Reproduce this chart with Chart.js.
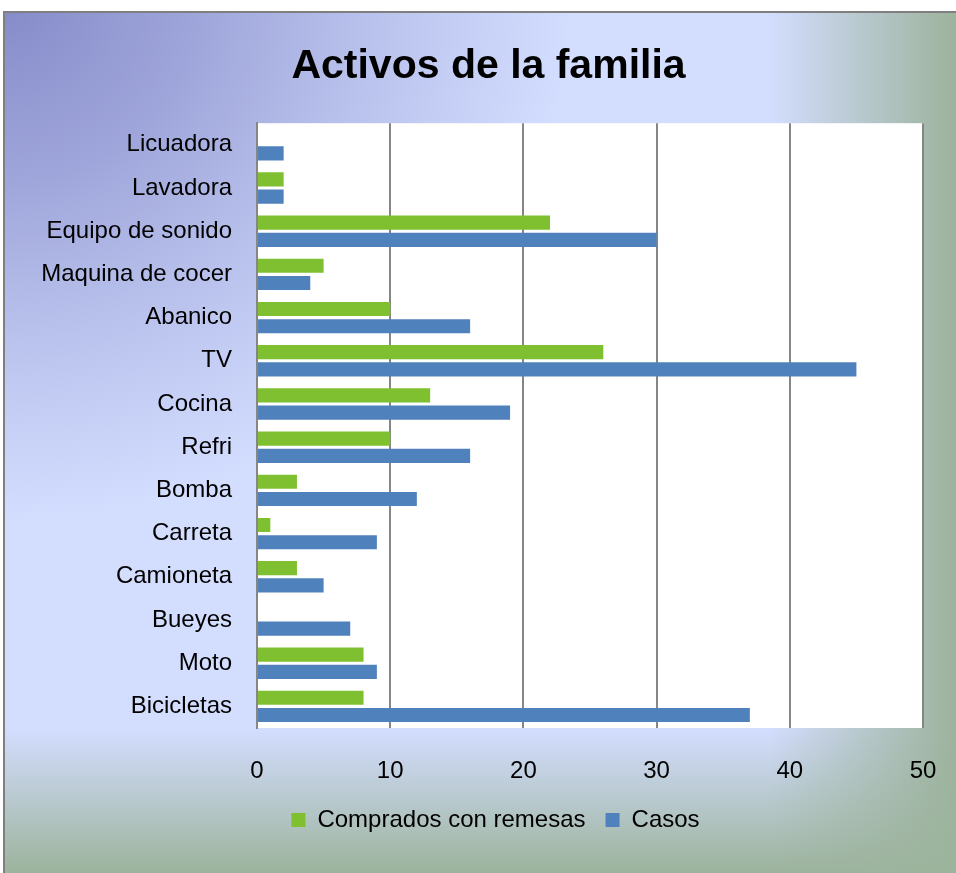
<!DOCTYPE html>
<html>
<head>
<meta charset="utf-8">
<script src="https://cdn.jsdelivr.net/npm/chart.js@4"></script>
<style>
  body { margin: 0; background: #fff; }
  #chart { display: block; }
</style>
</head>
<body>
<canvas id="chart" width="956" height="873"></canvas>
<script>
const categories = ["Licuadora", "Lavadora", "Equipo de sonido", "Maquina de cocer", "Abanico", "TV",
  "Cocina", "Refri", "Bomba", "Carreta", "Camioneta", "Bueyes", "Moto", "Bicicletas"];
const remesas = [0, 2, 22, 5, 10, 26, 13, 10, 3, 1, 3, 0, 8, 8];
const casos = [2, 2, 30, 4, 16, 45, 19, 16, 12, 9, 5, 7, 9, 37];
const xTicks = [0, 10, 20, 30, 40, 50];

const FONT = "'Liberation Sans', Arial, sans-serif";

// frame + gradient background + white plot area
const background = {
  id: "background",
  afterLayout(chart) {
    // title and legend sit a bit right of centre in the original
    chart.titleBlock.left += 15;
    chart.titleBlock.right += 15;
    chart.legend.left += 22;
    chart.legend.right += 22;
  },
  beforeDraw(chart) {
    const ctx = chart.ctx;
    const W = chart.width, H = chart.height;
    const fx = 4, fy = 12;
    ctx.save();
    ctx.fillStyle = "#fff";
    ctx.fillRect(0, 0, W, H);
    ctx.beginPath();
    ctx.rect(fx, fy, W - fx, H - fy);
    ctx.clip();
    ctx.fillStyle = "#d3ddfe";
    ctx.fillRect(fx, fy, W, H);

    // purple from the top-left corner
    ctx.save();
    ctx.scale(1.1, 1);
    let g = ctx.createRadialGradient(0, 0, 0, 0, 0, 520);
    g.addColorStop(0, "rgba(132,138,200,1)");
    g.addColorStop(0.35, "rgba(150,156,212,0.85)");
    g.addColorStop(1, "rgba(160,168,220,0)");
    ctx.fillStyle = g;
    ctx.fillRect(0, 0, W, H);
    ctx.restore();

    // green on the right edge
    g = ctx.createLinearGradient(770, 0, W, 0);
    g.addColorStop(0, "rgba(156,179,156,0)");
    g.addColorStop(1, "rgba(156,179,156,1)");
    ctx.fillStyle = g;
    ctx.fillRect(0, 0, W, H);

    // green at the bottom
    g = ctx.createLinearGradient(0, 730, 0, H);
    g.addColorStop(0, "rgba(156,179,156,0)");
    g.addColorStop(1, "rgba(156,179,156,1)");
    ctx.fillStyle = g;
    ctx.fillRect(0, 0, W, H);

    ctx.restore();

    ctx.save();
    ctx.strokeStyle = "#7f7f7f";
    ctx.lineWidth = 2;
    ctx.strokeRect(fx, fy, W - fx + 4, H - fy + 4);
    const a = chart.chartArea;
    ctx.fillStyle = "#fff";
    ctx.fillRect(a.left, a.top, a.right - a.left, a.bottom - a.top);
    ctx.restore();
  }
};

new Chart(document.getElementById("chart"), {
  type: "bar",
  data: {
    labels: categories,
    datasets: [
      { label: "Comprados con remesas", data: remesas, backgroundColor: "#7fc031" },
      { label: "Casos", data: casos, backgroundColor: "#4f81bd" }
    ]
  },
  options: {
    indexAxis: "y",
    responsive: false,
    animation: false,
    categoryPercentage: 0.8,
    barPercentage: 0.82,
    layout: { padding: { top: 12, left: 24, right: 33, bottom: 31 } },
    plugins: {
      title: {
        display: true,
        text: "Activos de la familia",
        color: "#000",
        font: { family: FONT, size: 41, weight: "bold" },
        padding: { top: 30, bottom: 32 }
      },
      legend: {
        position: "bottom",
        labels: {
          color: "#000",
          font: { family: FONT, size: 24 },
          boxWidth: 14,
          boxHeight: 14,
          padding: 20
        }
      },
      tooltip: { enabled: false }
    },
    scales: {
      x: {
        min: 0,
        max: 50,
        afterBuildTicks: s => { s.ticks = xTicks.map(v => ({ value: v })); },
        ticks: { color: "#000", font: { family: FONT, size: 24 }, padding: 29 },
        grid: { color: "#868686", lineWidth: 2, drawTicks: false },
        border: { display: false },
        afterFit: s => { s.height = 60; s.paddingLeft = 0; s.paddingRight = 0; }
      },
      y: {
        ticks: { color: "#000", font: { family: FONT, size: 24 }, padding: 25 },
        grid: { display: false, drawTicks: false },
        border: { display: true, color: "#868686", width: 2 },
        afterFit: s => { s.width = 233; }
      }
    }
  },
  plugins: [background]
});
</script>
</body>
</html>
